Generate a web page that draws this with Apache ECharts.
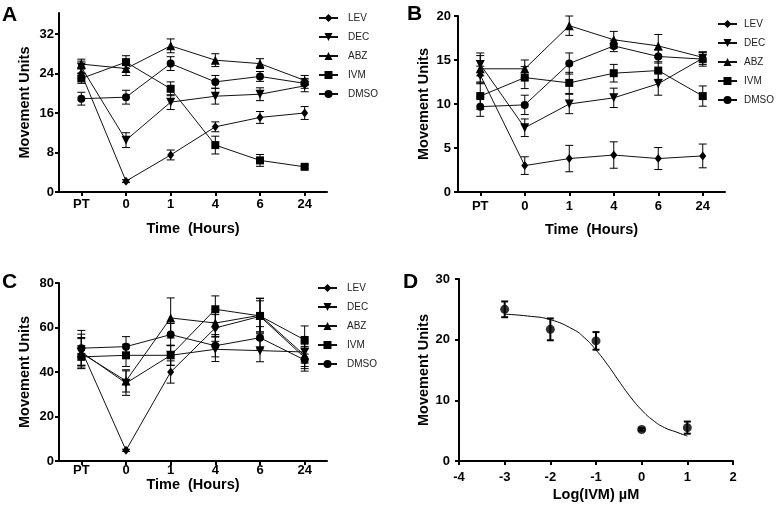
<!DOCTYPE html>
<html>
<head>
<meta charset="utf-8">
<script src="https://cdn.jsdelivr.net/npm/echarts@6/dist/echarts.min.js"></script>
<style>
  html, body { margin: 0; padding: 0; background: #fff; }
  #main { width: 777px; height: 506px; }
</style>
</head>
<body>
<div id="main"></div>
<script>
// ------------------------------
// Data
// ------------------------------
var timeLabels = ["PT", "0", "1", "4", "6", "24"];
var drugs = ["LEV", "DEC", "ABZ", "IVM", "DMSO"];

// rows follow the drugs order
var aMeans = [
  [24.0, 2.2, 7.5, 13.2, 15.1, 16.0],
  [25.3, 10.5, 18.2, 19.4, 19.8, 21.5],
  [25.9, 25.0, 29.6, 26.7, 26.0, 22.6],
  [23.0, 26.3, 20.9, 9.5, 6.4, 5.1],
  [18.9, 19.2, 26.0, 22.3, 23.4, 22.0]
];
var aErrs = [
  [1.0, 0.3, 1.0, 1.0, 1.2, 1.3],
  [1.2, 1.5, 1.5, 1.6, 1.3, 1.2],
  [1.0, 1.4, 1.4, 1.3, 1.0, 1.0],
  [1.0, 1.3, 1.4, 1.8, 1.2, 0.3],
  [1.3, 1.4, 1.4, 1.3, 1.0, 1.0]
];

var bMeans = [
  [13.3, 3.0, 3.8, 4.2, 3.8, 4.1],
  [14.5, 7.3, 10.0, 10.7, 12.3, 15.2],
  [14.0, 14.0, 18.9, 17.3, 16.6, 15.3],
  [10.9, 13.0, 12.4, 13.5, 13.8, 10.9],
  [9.7, 9.9, 14.6, 16.6, 15.4, 15.1]
];
var bErrs = [
  [1.0, 1.0, 1.5, 1.5, 1.25, 1.35],
  [1.3, 1.0, 1.1, 1.1, 1.3, 0.7],
  [1.5, 1.0, 1.1, 0.95, 1.3, 0.6],
  [1.5, 1.25, 1.2, 1.0, 1.0, 1.15],
  [1.1, 1.1, 1.2, 0.65, 0.75, 0.8]
];

var cMeans = [
  [50.0, 4.8, 40.0, 59.8, 65.0, 46.5],
  [49.0, 35.0, 47.5, 50.2, 49.6, 49.0],
  [48.5, 36.0, 64.3, 62.0, 65.5, 47.5],
  [46.8, 47.5, 47.5, 68.2, 65.2, 54.4],
  [50.7, 51.4, 56.8, 51.8, 55.4, 45.4]
];
var cErrs = [
  [7, 0.5, 5, 6, 7, 5],
  [6, 5.5, 4.5, 5.5, 5, 5],
  [7, 5, 9, 6, 7.5, 5],
  [5, 5, 4.5, 6, 8, 6.3],
  [8, 4.5, 5, 5, 5, 5]
];

var dDoses = [-3, -2, -1, 0, 1];
var dMeans = [25.0, 21.7, 19.8, 5.2, 5.5];
var dErrs = [1.3, 1.8, 1.45, 0.2, 1.0];
// fitted dose-response curve, sampled from the figure
var fitX = [-3, -2.5, -2, -1.5, -1.25, -1, -0.75, -0.5, -0.25, 0, 0.25, 0.5, 0.75, 1];
var fitY = [24.2, 23.9, 23.3, 21.7, 20.3, 18.3, 15.9, 13.2, 10.6, 8.4, 6.7, 5.5, 4.8, 4.1];

var aTicks = [0, 8, 16, 24, 32];

// ------------------------------
// Styles
// ------------------------------
var FONT = "Liberation Sans, Arial, sans-serif";
var drugSymbols = ["diamond", "triangle", "triangle", "rect", "circle"];
var drugRotate = [0, 180, 0, 0, 0];
var drugSize = [[7, 9], 9, 9, 8, 8];

var chart = echarts.init(document.getElementById("main"));

function errBarRender(capHalf, width) {
  return function (params, api) {
    var x = api.value(0);
    var lo = api.coord([x, api.value(1)]);
    var hi = api.coord([x, api.value(2)]);
    var st = { stroke: "#000", lineWidth: width, fill: null };
    return {
      type: "group",
      children: [
        { type: "line", shape: { x1: lo[0], y1: lo[1], x2: hi[0], y2: hi[1] }, style: st },
        { type: "line", shape: { x1: lo[0] - capHalf, y1: lo[1], x2: lo[0] + capHalf, y2: lo[1] }, style: st },
        { type: "line", shape: { x1: hi[0] - capHalf, y1: hi[1], x2: hi[0] + capHalf, y2: hi[1] }, style: st }
      ]
    };
  };
}

var axisLine = { show: true, onZero: false, lineStyle: { color: "#000", width: 2 } };
var axisTick = { show: true, length: 4, lineStyle: { color: "#000", width: 2 } };
function labelStyle(margin) {
  return { color: "#000", fontWeight: "bold", fontSize: 13, fontFamily: FONT, margin: margin };
}
var nameStyle = { color: "#000", fontWeight: "bold", fontSize: 14.5, fontFamily: FONT };

function timeXAxis(gi, labelMargin, nameGap) {
  return {
    type: "category", gridIndex: gi, data: timeLabels, boundaryGap: true,
    axisLine: axisLine,
    axisTick: { show: true, alignWithLabel: true, length: 4, lineStyle: { color: "#000", width: 2 } },
    axisLabel: labelStyle(labelMargin),
    splitLine: { show: false },
    name: "Time  (Hours)", nameLocation: "middle", nameGap: nameGap, nameTextStyle: nameStyle
  };
}
function movementYAxis(gi, max, interval, labelMargin) {
  return {
    type: "value", gridIndex: gi, min: 0, max: max, interval: interval,
    axisLine: axisLine, axisTick: axisTick, axisLabel: labelStyle(labelMargin),
    splitLine: { show: false },
    name: "Movement Units", nameLocation: "middle", nameGap: 27, nameTextStyle: nameStyle
  };
}

var series = [];
function addTimePanel(gi, means, errs) {
  drugs.forEach(function (name, k) {
    series.push({
      type: "line", name: name, xAxisIndex: gi, yAxisIndex: gi,
      data: means[k],
      symbol: drugSymbols[k], symbolRotate: drugRotate[k], symbolSize: drugSize[k],
      itemStyle: { color: "#000" },
      lineStyle: { color: "#111", width: 1 },
      z: 3
    });
  });
  drugs.forEach(function (name, k) {
    series.push({
      type: "custom", xAxisIndex: gi, yAxisIndex: gi,
      renderItem: errBarRender(4, 1),
      encode: { x: 0, y: [1, 2] },
      data: means[k].map(function (m, i) {
        return [i, m - errs[k][i], m + errs[k][i]];
      }),
      z: 2
    });
  });
}
addTimePanel(0, aMeans, aErrs);
addTimePanel(1, bMeans, bErrs);
addTimePanel(2, cMeans, cErrs);

// Panel D
series.push({
  type: "line", xAxisIndex: 3, yAxisIndex: 3, smooth: true, symbol: "none",
  lineStyle: { color: "#000", width: 1 },
  data: fitX.map(function (x, i) { return [x, fitY[i]]; })
});
series.push({
  type: "custom", xAxisIndex: 3, yAxisIndex: 3,
  renderItem: errBarRender(3.5, 2),
  encode: { x: 0, y: [1, 2] },
  data: dDoses.map(function (x, i) { return [x, dMeans[i] - dErrs[i], dMeans[i] + dErrs[i]]; })
});
series.push({
  type: "scatter", xAxisIndex: 3, yAxisIndex: 3, symbol: "circle", symbolSize: 9,
  itemStyle: { color: "#000" },
  data: dDoses.map(function (x, i) { return [x, dMeans[i]]; }),
  z: 4
});

function legendAt(left, top, textGap) {
  return {
    data: drugs, orient: "vertical", left: left, top: top, padding: 0,
    itemWidth: 19, itemHeight: 10, itemGap: 9, selectedMode: false,
    textStyle: { color: "#222", fontSize: 10, fontFamily: FONT, padding: [0, 0, 0, textGap] }
  };
}

function panelLetter(text, left, top) {
  return {
    type: "text", left: left, top: top,
    style: { text: text, font: "bold 21px " + FONT, fill: "#000" }
  };
}

var option = {
  animation: false,
  backgroundColor: "#fff",
  grid: [
    { left: 59, top: 13, width: 268, height: 179 },
    { left: 458, top: 16, width: 267, height: 176 },
    { left: 59, top: 283, width: 268, height: 178 },
    { left: 459, top: 279, width: 274, height: 182 }
  ],
  xAxis: [
    timeXAxis(0, 6, 29),
    timeXAxis(1, 8, 30),
    timeXAxis(2, 3, 13),
    {
      type: "value", gridIndex: 3, min: -4, max: 2, interval: 1,
      axisLine: axisLine, axisTick: axisTick, axisLabel: labelStyle(10),
      splitLine: { show: false },
      name: "Log(IVM) \u00b5M", nameLocation: "middle", nameGap: 26, nameTextStyle: nameStyle
    }
  ],
  yAxis: [
    (function () {
      var ax = movementYAxis(0, 36.25, null, 5);
      delete ax.interval;
      ax.axisLabel.customValues = aTicks;
      ax.axisTick = { show: true, length: 4, lineStyle: { color: "#000", width: 2 }, customValues: aTicks };
      return ax;
    })(),
    movementYAxis(1, 20, 5, 7),
    movementYAxis(2, 80, 20, 5),
    movementYAxis(3, 30, 10, 9)
  ],
  legend: [legendAt(318, 13, 5), legendAt(717, 19, 2), legendAt(317, 283, 5)],
  graphic: [
    panelLetter("A", 2, 5),
    panelLetter("B", 407, 4),
    panelLetter("C", 2, 272),
    panelLetter("D", 403, 272)
  ],
  series: series
};
chart.setOption(option);

window.addEventListener("resize", function () {
  chart.resize();
});
</script>
</body>
</html>
